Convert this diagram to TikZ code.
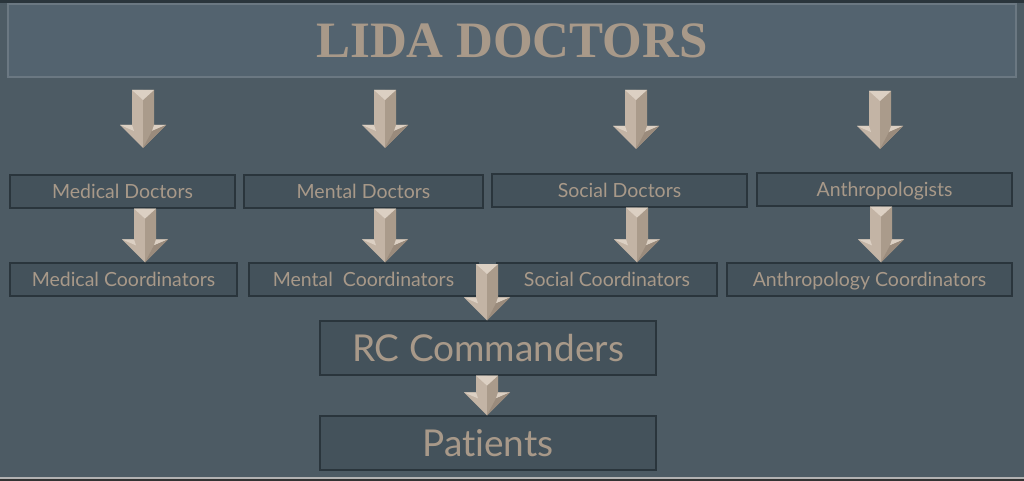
\documentclass[tikz,border=0pt]{standalone}
\usepackage{fontspec}
\setmainfont[Ligatures={NoCommon}]{Lato}
\newfontfamily\titlefont{Liberation Serif}
\usetikzlibrary{calc}
\definecolor{bg}{HTML}{4D5B64}
\definecolor{titlefill}{HTML}{53636F}
\definecolor{titleedge}{HTML}{6B7882}
\definecolor{boxfill}{HTML}{44525B}
\definecolor{boxedge}{HTML}{2A353C}
\definecolor{tan}{HTML}{A89989}
\definecolor{arL}{HTML}{C3B4A5}
\definecolor{arR}{HTML}{AA9B8B}
\definecolor{arH}{HTML}{DCD0C3}
\definecolor{arD}{HTML}{9A8B7C}
\newcommand\blockarrow[2]{%
  \fill[arL] let \p1=(#1), \p2=(#2) in
    (\x1-11pt,\y1) -- (\x1,\y1) -- (\x2,\y2) -- (\x2-23pt,\y2+23pt) -- (\x2-11pt,\y2+23pt) -- cycle;
  \fill[arR] let \p1=(#1), \p2=(#2) in
    (\x1+11pt,\y1) -- (\x1,\y1) -- (\x2,\y2) -- (\x2+23pt,\y2+23pt) -- (\x2+11pt,\y2+23pt) -- cycle;
  \fill[arH] let \p1=(#1), \p2=(#2) in
    (\x1-11pt,\y1) -- (\x1+11pt,\y1) -- (\x1,\y1-10pt) -- cycle;
  \fill[arH] let \p1=(#1), \p2=(#2) in
    (\x2-23pt,\y2+23pt) -- (\x2-11pt,\y2+23pt) -- (\x2-9pt,\y2+17pt) -- cycle;
  \fill[arH] let \p1=(#1), \p2=(#2) in
    (\x2+23pt,\y2+23pt) -- (\x2+11pt,\y2+23pt) -- (\x2+9pt,\y2+17pt) -- cycle;
  \fill[arD] let \p1=(#1), \p2=(#2) in
    (\x2+23pt,\y2+23pt) -- (\x2+9pt,\y2+17pt) -- (\x2,\y2) -- cycle;
}
\tikzset{
  box/.style={draw=boxedge, line width=1.2pt, fill=boxfill, text=tan,
    inner sep=0pt, text height=14pt, text depth=0pt,
    font=\fontsize{19.5}{22}\selectfont},
  bigbox/.style={box, text height=27pt, text depth=0pt, font=\fontsize{37}{40}\selectfont},
}
\begin{document}
\begin{tikzpicture}[x=1pt,y=-1pt]
\fill[bg] (0,0) rectangle (1024,481);
\useasboundingbox (0,0) rectangle (1024,481);
\fill[boxedge] (0,0) rectangle (1024,3);
\fill[black!80] (0,478) rectangle (1024,481);
\fill[gray!60] (0,477) rectangle (1024,478.5);
% title
\node[draw=titleedge, line width=1.5pt, fill=titlefill, minimum width=1008, minimum height=73,
  text=tan, font=\titlefont\bfseries\fontsize{51}{54}\selectfont] (title) at (512,40.5) {LIDA DOCTORS};
% row 1
\node[box, minimum width=225, minimum height=33] (md) at (122.5,191.5) {Medical Doctors};
\node[box, minimum width=239, minimum height=33] (mnd) at (363.5,191.5) {Mental Doctors};
\node[box, minimum width=255, minimum height=33] (sd) at (619.5,190.5) {Social Doctors};
\node[box, minimum width=255, minimum height=33] (an) at (884.5,189.5) {Anthropologists};
% row 2
\node[box, minimum width=227, minimum height=33] (mc) at (123.5,279.5) {Medical Coordinators};
\node[box, minimum width=229, minimum height=33] (mnc) at (363.5,279.5) {Mental\ \ Coordinators};
\node[box, minimum width=220, minimum height=33] (sc) at (607,279.5) {Social Coordinators};
\node[box, minimum width=285, minimum height=33] (ac) at (869.5,279.5) {Anthropology Coordinators};
% bottom
\node[bigbox, minimum width=336, minimum height=54] (rc) at (488,348) {RC Commanders};
\node[bigbox, minimum width=336, minimum height=54] (pt) at (488,443) {Patients};
% arrow end points
\coordinate (t1) at (143,90);  \coordinate (b1) at (143,148);
\coordinate (t2) at (385,90);  \coordinate (b2) at (385,148);
\coordinate (t3) at (636,90);  \coordinate (b3) at (636,149);
\coordinate (t4) at (880,91);  \coordinate (b4) at (880,149);
\blockarrow{t1}{b1}
\blockarrow{t2}{b2}
\blockarrow{t3}{b3}
\blockarrow{t4}{b4}
\blockarrow{md.south -| 145,0}{mc.north -| 145,0}
\blockarrow{mnd.south -| 385,0}{mnc.north -| 385,0}
\blockarrow{sd.south -| 637,0}{sc.north -| 637,0}
\blockarrow{an.south -| 881,0}{ac.north -| 881,0}
\coordinate (rt) at (487,264);
\blockarrow{rt}{rc.north -| 487,0}
\blockarrow{rc.south -| 487,0}{pt.north -| 487,0}
\end{tikzpicture}
\end{document}
